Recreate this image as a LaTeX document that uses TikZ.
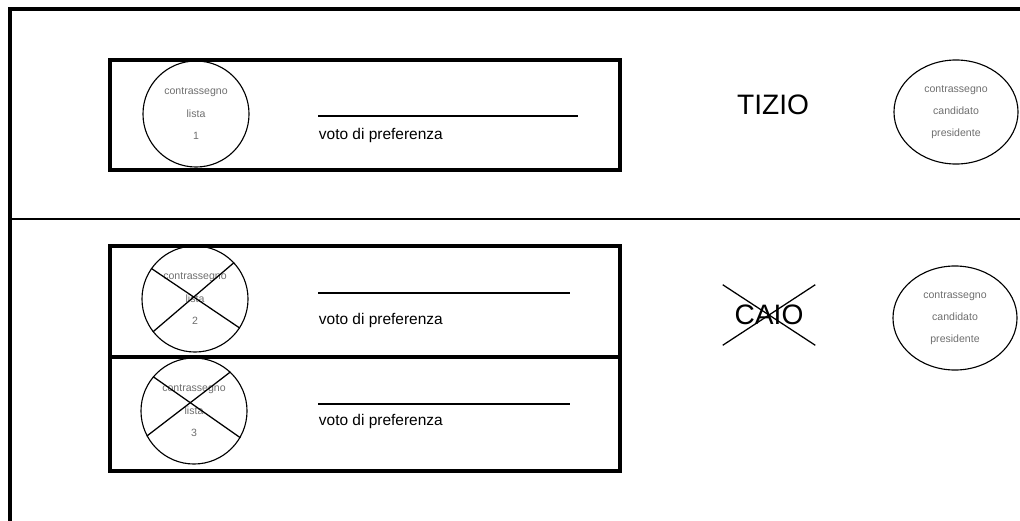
\documentclass[tikz,border=0pt]{standalone}
\usepackage{fontspec}
\setmainfont{Liberation Sans}
\usetikzlibrary{shapes.geometric, positioning, calc}
\definecolor{cMark}{RGB}{110,110,110}
\tikzset{
	frameline/.style={line width=2.2pt, line cap=rect},
	listbox/.style  ={line width=2.4pt},
	% party and candidate marks
	markcirc/.style ={circle, draw=black, line width=0.8pt, minimum size=2.65cm, inner sep=0pt, align=center, text=cMark, font=\fontsize{7.5}{16}\selectfont},
	cand/.style     ={ellipse, draw=black, line width=0.8pt, minimum width=3.1cm, minimum height=2.6cm, inner sep=0pt, align=center, text=cMark, font=\fontsize{7.5}{15.6}\selectfont},
	prefline/.style ={line width=0.8pt},
	preftext/.style ={anchor=west, font=\fontsize{11}{13}\selectfont},
	candname/.style ={font=\fontsize{20}{24}\selectfont},
	cross/.style    ={line width=0.9pt},
}
\begin{document}
\begin{tikzpicture}[x=0.025cm, y=-0.025cm]
	\useasboundingbox (0,0) rectangle (1020,520);
	% outer frame and divider
	\draw[frameline] (10,525) -- (10,9) -- (1025,9);
	\draw[line width=1.8pt] (10,219) -- (1025,219);
	% first coalition: TIZIO
	\draw[listbox] (110,60) rectangle (620,170);
	\node[markcirc] (l1) at (196,114) {contrassegno\\lista\\1};
	\coordinate (p1a) at (318,116);
	\coordinate (p1b) at (578,116);
	\draw[prefline] (p1a) -- (p1b);
	\node[preftext] (v1) at (314,135) {voto di preferenza};
	\node[candname] (tizio) at (773,105) {TIZIO};
	\node[cand] (c1) at (956,112) {contrassegno\\candidato\\presidente};
	% second coalition: CAIO
	\draw[listbox] (110,246) rectangle (620,357);
	\draw[listbox] (110,357) rectangle (620,471);
	\node[markcirc] (l2) at (195,299) {contrassegno\\lista\\2};
	\draw[cross] (l2.145) -- (l2.-33);
	\draw[cross] (l2.43) -- (l2.218);
	\node[markcirc] (l3) at (194,411) {contrassegno\\lista\\3};
	\draw[cross] (l3.140) -- (l3.-30);
	\draw[cross] (l3.47) -- (l3.208);
	\coordinate (p2a) at (318,293);
	\coordinate (p2b) at (570,293);
	\draw[prefline] (p2a) -- (p2b);
	\node[preftext] (v2) at (314,320) {voto di preferenza};
	\coordinate (p3a) at (318,404);
	\coordinate (p3b) at (570,404);
	\draw[prefline] (p3a) -- (p3b);
	\node[preftext] (v3) at (314,421) {voto di preferenza};
	\node[candname, minimum width=2.3cm, minimum height=1.5cm, inner sep=0pt] (caio) at (769,315) {CAIO};
	\draw[cross] (caio.north west) -- (caio.south east);
	\draw[cross] (caio.north east) -- (caio.south west);
	\node[cand] (c2) at (955,318) {contrassegno\\candidato\\presidente};
\end{tikzpicture}
\end{document}
